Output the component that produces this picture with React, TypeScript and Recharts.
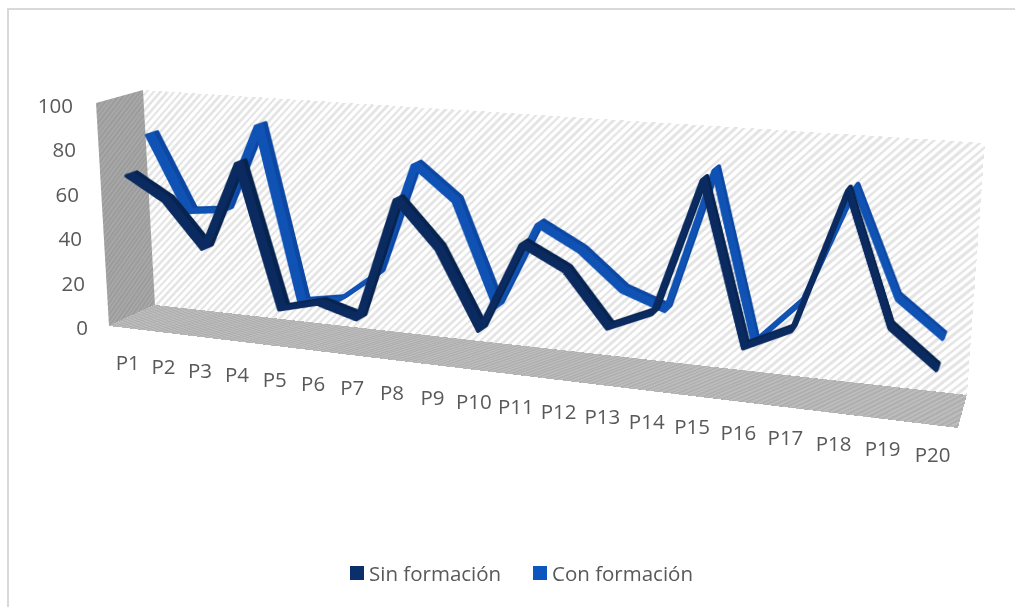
import { LineChart, Line, XAxis, YAxis, Legend } from "recharts";

const categories = ["P1", "P2", "P3", "P4", "P5", "P6", "P7", "P8", "P9", "P10", "P11", "P12", "P13", "P14", "P15", "P16", "P17", "P18", "P19", "P20"];
const sinFormacion = [68, 58, 38, 77, 14.5, 19, 14, 67, 48, 15, 53, 44, 22, 30, 85, 20, 29, 85, 34, 19.5];
const conFormacion = [83, 49, 51, 90, 12.5, 15.5, 29, 78, 64, 20, 57, 47.5, 32.5, 26, 85, 16, 35, 82, 40, 26];
const yTicks = [0, 20, 40, 60, 80, 100];

const rows = categories.map((name, i) => ({ name, sin: sinFormacion[i], con: conFormacion[i] }));

const TEXT = "#595959";
const FONT = "'Open Sans', sans-serif";
const SIN_COLOR = "#0b2f6b";
const CON_COLOR = "#0d56c0";

// size of the flat drawing that each plane is warped from
const PLANE_W = 850;
const PLANE_H = 230;
const PAD = 20;

type Pt = [number, number];
type Quad = [Pt, Pt, Pt, Pt]; // top-left, top-right, bottom-right, bottom-left

// corners of the 3D box on screen
const FRONT: Quad = [[97, 103], [977, 163], [958, 428], [110, 325]];
const BACK: Quad = [[143, 90], [985, 143], [967, 395], [155, 305]];
const LEFT_WALL: Quad = [[96, 103], [143, 90], [155, 305], [109, 326]];
const FLOOR: Quad = [[155, 305], [967, 395], [958, 428], [109, 326]];

const mix = (a: number, b: number, t: number) => a + (b - a) * t;

function quadAtDepth(d: number): Quad {
  return FRONT.map((p, i) => [mix(p[0], BACK[i][0], d), mix(p[1], BACK[i][1], d)]) as Quad;
}

// rectangle -> quad projective coefficients
function solve(w: number, h: number, q: Quad) {
  const [[x0, y0], [x1, y1], [x2, y2], [x3, y3]] = q;
  const dx1 = x1 - x2, dx2 = x3 - x2, sx = x0 - x1 + x2 - x3;
  const dy1 = y1 - y2, dy2 = y3 - y2, sy = y0 - y1 + y2 - y3;
  const det = dx1 * dy2 - dx2 * dy1;
  const g = (sx * dy2 - dx2 * sy) / det;
  const k = (dx1 * sy - sx * dy1) / det;
  return {
    a: (x1 - x0 + g * x1) / w, b: (x3 - x0 + k * x3) / h, c: x0,
    d: (y1 - y0 + g * y1) / w, e: (y3 - y0 + k * y3) / h, f: y0,
    g: g / w, h: k / h,
  };
}

function project(w: number, h: number, q: Quad, x: number, y: number): Pt {
  const m = solve(w, h, q);
  const z = m.g * x + m.h * y + 1;
  return [(m.a * x + m.b * y + m.c) / z, (m.d * x + m.e * y + m.f) / z];
}

function Plane({ quad, w = PLANE_W, h = PLANE_H, style, children }: { quad: Quad; w?: number; h?: number; style?: React.CSSProperties; children?: React.ReactNode }) {
  const m = solve(w, h, quad);
  const transform = `matrix3d(${m.a},${m.d},0,${m.g},${m.b},${m.e},0,${m.h},0,0,1,0,${m.c},${m.f},0,1)`;
  return (
    <div style={{ position: "absolute", left: 0, top: 0, width: w, height: h, transformOrigin: "0 0", transform, ...style }}>
      {children}
    </div>
  );
}

// one slice of a ribbon, drawn flat and then warped onto its depth in the box
function RibbonSlice({ dataKey, color, depth }: { dataKey: string; color: string; depth: number }) {
  return (
    <Plane quad={quadAtDepth(depth)}>
      <div style={{ position: "absolute", left: -PAD, top: -PAD }}>
        <LineChart
          width={PLANE_W + PAD * 2}
          height={PLANE_H + PAD * 2}
          data={rows}
          margin={{ top: PAD, right: PAD, bottom: PAD, left: PAD }}
        >
          <XAxis dataKey="name" hide padding={{ left: PLANE_W / 40, right: PLANE_W / 40 }} />
          <YAxis hide domain={[0, 100]} />
          <Line
            dataKey={dataKey}
            type="linear"
            stroke={color}
            strokeWidth={3}
            strokeLinejoin="round"
            dot={false}
            isAnimationActive={false}
          />
        </LineChart>
      </div>
    </Plane>
  );
}

const sinSlices = [0.38, 0.36, 0.34, 0.32, 0.3, 0.28, 0.26, 0.24, 0.22, 0.2, 0.18, 0.16, 0.14, 0.12];
const conSlices = [0.88, 0.86, 0.84, 0.82, 0.8, 0.78, 0.76, 0.74, 0.72, 0.7, 0.68, 0.66, 0.64, 0.62];

// base chart geometry, chosen so the value axis lines up with the box's front edge
const BASE_LEFT = 95;
const BASE_TOP = 105;
const BASE_BOTTOM = 327;

function CategoryTick({ x, payload }: any) {
  const u = x - BASE_LEFT;
  const [px, py] = project(PLANE_W, PLANE_H, FRONT, u, PLANE_H);
  return (
    <text x={px} y={py + 35 - (6 * u) / PLANE_W} textAnchor="middle" dominantBaseline="central" fill={TEXT} fontFamily={FONT} fontSize={20.5}>
      {payload.value}
    </text>
  );
}

// value labels follow the slant of the box's left edge
function ValueTick({ y, payload }: any) {
  return (
    <text x={88 - payload.value * 0.15} y={y} textAnchor="end" dominantBaseline="central" fill={TEXT} fontFamily={FONT} fontSize={20.5}>
      {payload.value}
    </text>
  );
}

function SeriesLegend() {
  const items = [
    { name: "Sin formación", color: SIN_COLOR, width: 183 },
    { name: "Con formación", color: CON_COLOR, width: 170 },
  ];
  return (
    <div style={{ display: "flex", fontFamily: FONT, fontSize: 20.5, color: TEXT, lineHeight: "28px" }}>
      {items.map((it) => (
        <div key={it.name} style={{ display: "flex", alignItems: "center", width: it.width, whiteSpace: "nowrap" }}>
          <span style={{ width: 14, height: 14, background: it.color, marginRight: 5, flex: "none" }} />
          {it.name}
        </div>
      ))}
    </div>
  );
}

const hatch = (bg: string, line: string, a = 3, b = 5.5) =>
  `repeating-linear-gradient(135deg, ${bg} 0 ${a}px, ${line} ${a}px ${b}px)`;

export default function App() {
  return (
    <div style={{ position: "fixed", left: 0, top: 0, width: 1015, height: 607, overflow: "hidden", background: "#fff" }}>
      <div style={{ position: "absolute", left: 7, top: 8, width: 1010, height: 597, borderLeft: "2px solid #d9d9d9", borderTop: "2px solid #d9d9d9" }} />

      <Plane quad={BACK} style={{ background: hatch("#ffffff", "#e4e4e4") }} />
      <Plane quad={LEFT_WALL} w={46} style={{ background: hatch("#a8a8a8", "#9b9b9b", 2, 4) }} />
      <Plane quad={FLOOR} h={34} style={{ background: hatch("#bdbdbd", "#aeaeae", 2, 4) }} />

      <div style={{ position: "absolute", left: 0, top: 0 }}>
        <LineChart
          width={1015}
          height={607}
          data={rows}
          margin={{ top: BASE_TOP, right: 1015 - BASE_LEFT - PLANE_W, bottom: 607 - BASE_BOTTOM - 30, left: 0 }}
        >
          <XAxis
            dataKey="name"
            height={30}
            axisLine={false}
            tickLine={false}
            interval={0}
            padding={{ left: PLANE_W / 40, right: PLANE_W / 40 }}
            tick={<CategoryTick />}
          />
          <YAxis
            width={BASE_LEFT}
            domain={[0, 100]}
            ticks={yTicks}
            axisLine={false}
            tickLine={false}
            tick={<ValueTick />}
          />
          {/* the visible ribbons live on the warped planes; these keep the axes populated */}
          <Line dataKey="sin" stroke="none" dot={false} activeDot={false} isAnimationActive={false} />
          <Line dataKey="con" stroke="none" dot={false} activeDot={false} isAnimationActive={false} />
          <Legend
            layout="horizontal"
            verticalAlign="middle"
            align="center"
            content={<SeriesLegend />}
            wrapperStyle={{ position: "absolute", left: 350, top: 559, width: 370 }}
          />
        </LineChart>
      </div>

      {conSlices.map((d, i) => (
        <RibbonSlice key={d} dataKey="con" depth={d} color={i < 5 ? "#0b47a3" : "#0f52b4"} />
      ))}
      {sinSlices.map((d, i) => (
        <RibbonSlice key={d} dataKey="sin" depth={d} color={i < 5 ? "#06234f" : "#0a2a60"} />
      ))}
    </div>
  );
}
